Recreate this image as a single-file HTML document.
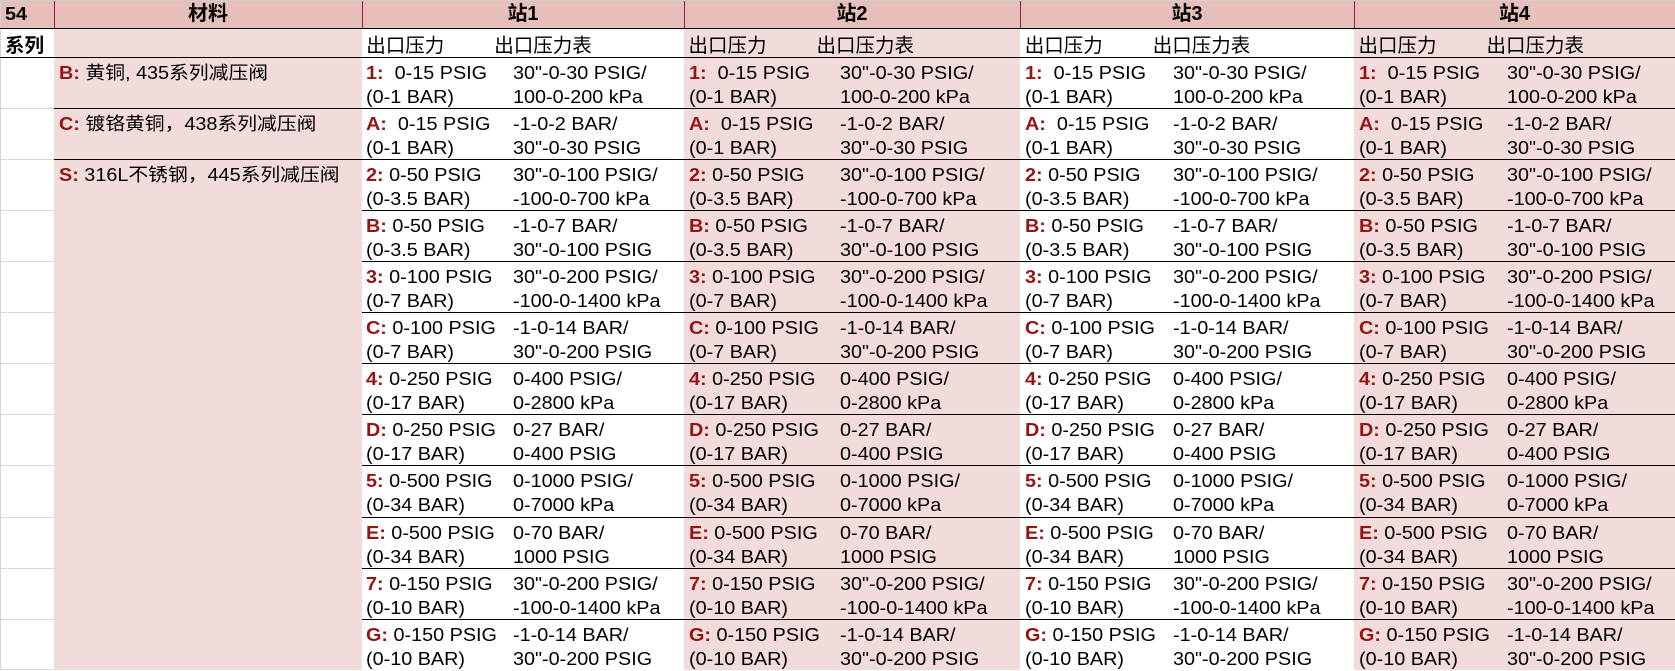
<!DOCTYPE html>
<html><head><meta charset="utf-8">
<style>
body{margin:0;width:1675px;height:670px;overflow:hidden;background:#fff;position:relative;font-family:"Liberation Sans","Noto Sans CJK SC",sans-serif;font-size:18px;color:#000}
.a{position:absolute}
.pk{background:#f2dcdb}
.bl{background:#000;height:1px}
.gr{background:#d9d9d9;height:1px;left:1px;width:53px}
.cv{background:#9e1a3c;width:1px;top:1px;height:27px}
.t{position:absolute;top:0;left:0;white-space:pre;line-height:24px;transform:scaleX(1.1);transform-origin:0 0}
.t b{color:#951515;font-weight:700}
.z{font-size:19.5px;transform:none}
.r{position:absolute;left:0;width:1675px;height:51px}
.c{position:absolute;top:3.6px}
.s1{left:366.3px}.s2{left:688.5px}.s3{left:1024.8px}.s4{left:1358.5px}
.s1 .g{left:147.2px}.s2 .g{left:151.5px}.s3 .g{left:147.8px}.s4 .g{left:148.2px}
.h{left:128px}
.hd{position:absolute;top:0;height:28px;line-height:28px;text-align:center;font-weight:700;font-size:20px}
.hd span{display:inline-block}
.bo{font-weight:700}
</style></head><body>
<!-- backgrounds -->
<div class="a" style="left:0;top:0;width:1675px;height:28px;background:#e6bfba"></div>
<div class="a pk" style="left:54px;top:28px;width:308px;height:642px"></div>
<div class="a pk" style="left:684px;top:28px;width:336px;height:642px"></div>
<div class="a pk" style="left:1354px;top:28px;width:321px;height:642px"></div>
<div class="a" style="left:0;top:0;width:1675px;height:1px;background:#d0d0d0"></div>
<div class="a" style="left:0;top:0;width:1px;height:670px;background:#d4d4d4"></div>
<div class="a cv" style="left:54px"></div>
<div class="a cv" style="left:362px"></div>
<div class="a cv" style="left:684px"></div>
<div class="a cv" style="left:1020px"></div>
<div class="a cv" style="left:1354px"></div>
<!-- black lines -->
<div class="a bl" style="left:0;top:28px;width:1675px"></div>
<div class="a bl" style="left:0;top:57px;width:1675px"></div>
<div class="a bl" style="left:54px;top:108px;width:1621px"></div>
<div class="a bl" style="left:54px;top:159px;width:1621px"></div>
<div class="a bl" style="left:362px;top:210px;width:1313px"></div>
<div class="a bl" style="left:362px;top:261px;width:1313px"></div>
<div class="a bl" style="left:362px;top:312px;width:1313px"></div>
<div class="a bl" style="left:362px;top:363px;width:1313px"></div>
<div class="a bl" style="left:362px;top:414px;width:1313px"></div>
<div class="a bl" style="left:362px;top:465px;width:1313px"></div>
<div class="a bl" style="left:362px;top:517px;width:1313px"></div>
<div class="a bl" style="left:362px;top:568px;width:1313px"></div>
<div class="a bl" style="left:362px;top:619px;width:1313px"></div>
<!-- gray col A lines -->
<div class="a gr" style="top:108px"></div><div class="a gr" style="top:159px"></div><div class="a gr" style="top:210px"></div><div class="a gr" style="top:261px"></div><div class="a gr" style="top:312px"></div><div class="a gr" style="top:363px"></div><div class="a gr" style="top:414px"></div><div class="a gr" style="top:465px"></div><div class="a gr" style="top:517px"></div><div class="a gr" style="top:568px"></div><div class="a gr" style="top:619px"></div><div class="a gr" style="top:669px"></div>

<!-- header -->
<div class="t bo" style="left:4.7px;top:0;line-height:28px">54</div>
<div class="hd" style="left:54px;width:308px"><span>材料</span></div>
<div class="hd" style="left:362px;width:322px"><span>站1</span></div>
<div class="hd" style="left:684px;width:336px"><span>站2</span></div>
<div class="hd" style="left:1020px;width:334px"><span>站3</span></div>
<div class="hd" style="left:1354px;width:321px"><span>站4</span></div>

<!-- row 2 -->
<div class="r" style="top:33.5px">
<div class="t bo z" style="left:5px">系列</div>
<div class="c s1" style="top:0"><span class="t z">出口压力</span><span class="t z h">出口压力表</span></div>
<div class="c s2" style="top:0"><span class="t z">出口压力</span><span class="t z h">出口压力表</span></div>
<div class="c s3" style="top:0"><span class="t z">出口压力</span><span class="t z h">出口压力表</span></div>
<div class="c s4" style="top:0"><span class="t z">出口压力</span><span class="t z h">出口压力表</span></div>
</div>

<!-- material column -->
<div class="t" style="left:58.7px;top:60.6px"><b>B:</b> 黄铜, 435系列减压阀</div>
<div class="t" style="left:58.7px;top:111.6px"><b>C:</b> 镀铬黄铜，438系列减压阀</div>
<div class="t" style="left:58.7px;top:162.6px"><b>S:</b> 316L不锈钢，445系列减压阀</div>

<!-- data rows -->
<div class="r" style="top:57px">
<div class="c s1"><span class="t"><b>1:</b>  0-15 PSIG<br>(0-1 BAR)</span><span class="t g">30"-0-30 PSIG/<br>100-0-200 kPa</span></div>
<div class="c s2"><span class="t"><b>1:</b>  0-15 PSIG<br>(0-1 BAR)</span><span class="t g">30"-0-30 PSIG/<br>100-0-200 kPa</span></div>
<div class="c s3"><span class="t"><b>1:</b>  0-15 PSIG<br>(0-1 BAR)</span><span class="t g">30"-0-30 PSIG/<br>100-0-200 kPa</span></div>
<div class="c s4"><span class="t"><b>1:</b>  0-15 PSIG<br>(0-1 BAR)</span><span class="t g">30"-0-30 PSIG/<br>100-0-200 kPa</span></div>
</div>
<div class="r" style="top:108px">
<div class="c s1"><span class="t"><b>A:</b>  0-15 PSIG<br>(0-1 BAR)</span><span class="t g">-1-0-2 BAR/<br>30"-0-30 PSIG</span></div>
<div class="c s2"><span class="t"><b>A:</b>  0-15 PSIG<br>(0-1 BAR)</span><span class="t g">-1-0-2 BAR/<br>30"-0-30 PSIG</span></div>
<div class="c s3"><span class="t"><b>A:</b>  0-15 PSIG<br>(0-1 BAR)</span><span class="t g">-1-0-2 BAR/<br>30"-0-30 PSIG</span></div>
<div class="c s4"><span class="t"><b>A:</b>  0-15 PSIG<br>(0-1 BAR)</span><span class="t g">-1-0-2 BAR/<br>30"-0-30 PSIG</span></div>
</div>
<div class="r" style="top:159px">
<div class="c s1"><span class="t"><b>2:</b> 0-50 PSIG<br>(0-3.5 BAR)</span><span class="t g">30"-0-100 PSIG/<br>-100-0-700 kPa</span></div>
<div class="c s2"><span class="t"><b>2:</b> 0-50 PSIG<br>(0-3.5 BAR)</span><span class="t g">30"-0-100 PSIG/<br>-100-0-700 kPa</span></div>
<div class="c s3"><span class="t"><b>2:</b> 0-50 PSIG<br>(0-3.5 BAR)</span><span class="t g">30"-0-100 PSIG/<br>-100-0-700 kPa</span></div>
<div class="c s4"><span class="t"><b>2:</b> 0-50 PSIG<br>(0-3.5 BAR)</span><span class="t g">30"-0-100 PSIG/<br>-100-0-700 kPa</span></div>
</div>
<div class="r" style="top:210px">
<div class="c s1"><span class="t"><b>B:</b> 0-50 PSIG<br>(0-3.5 BAR)</span><span class="t g">-1-0-7 BAR/<br>30"-0-100 PSIG</span></div>
<div class="c s2"><span class="t"><b>B:</b> 0-50 PSIG<br>(0-3.5 BAR)</span><span class="t g">-1-0-7 BAR/<br>30"-0-100 PSIG</span></div>
<div class="c s3"><span class="t"><b>B:</b> 0-50 PSIG<br>(0-3.5 BAR)</span><span class="t g">-1-0-7 BAR/<br>30"-0-100 PSIG</span></div>
<div class="c s4"><span class="t"><b>B:</b> 0-50 PSIG<br>(0-3.5 BAR)</span><span class="t g">-1-0-7 BAR/<br>30"-0-100 PSIG</span></div>
</div>
<div class="r" style="top:261px">
<div class="c s1"><span class="t"><b>3:</b> 0-100 PSIG<br>(0-7 BAR)</span><span class="t g">30"-0-200 PSIG/<br>-100-0-1400 kPa</span></div>
<div class="c s2"><span class="t"><b>3:</b> 0-100 PSIG<br>(0-7 BAR)</span><span class="t g">30"-0-200 PSIG/<br>-100-0-1400 kPa</span></div>
<div class="c s3"><span class="t"><b>3:</b> 0-100 PSIG<br>(0-7 BAR)</span><span class="t g">30"-0-200 PSIG/<br>-100-0-1400 kPa</span></div>
<div class="c s4"><span class="t"><b>3:</b> 0-100 PSIG<br>(0-7 BAR)</span><span class="t g">30"-0-200 PSIG/<br>-100-0-1400 kPa</span></div>
</div>
<div class="r" style="top:312px">
<div class="c s1"><span class="t"><b>C:</b> 0-100 PSIG<br>(0-7 BAR)</span><span class="t g">-1-0-14 BAR/<br>30"-0-200 PSIG</span></div>
<div class="c s2"><span class="t"><b>C:</b> 0-100 PSIG<br>(0-7 BAR)</span><span class="t g">-1-0-14 BAR/<br>30"-0-200 PSIG</span></div>
<div class="c s3"><span class="t"><b>C:</b> 0-100 PSIG<br>(0-7 BAR)</span><span class="t g">-1-0-14 BAR/<br>30"-0-200 PSIG</span></div>
<div class="c s4"><span class="t"><b>C:</b> 0-100 PSIG<br>(0-7 BAR)</span><span class="t g">-1-0-14 BAR/<br>30"-0-200 PSIG</span></div>
</div>
<div class="r" style="top:363px">
<div class="c s1"><span class="t"><b>4:</b> 0-250 PSIG<br>(0-17 BAR)</span><span class="t g">0-400 PSIG/<br>0-2800 kPa</span></div>
<div class="c s2"><span class="t"><b>4:</b> 0-250 PSIG<br>(0-17 BAR)</span><span class="t g">0-400 PSIG/<br>0-2800 kPa</span></div>
<div class="c s3"><span class="t"><b>4:</b> 0-250 PSIG<br>(0-17 BAR)</span><span class="t g">0-400 PSIG/<br>0-2800 kPa</span></div>
<div class="c s4"><span class="t"><b>4:</b> 0-250 PSIG<br>(0-17 BAR)</span><span class="t g">0-400 PSIG/<br>0-2800 kPa</span></div>
</div>
<div class="r" style="top:414px">
<div class="c s1"><span class="t"><b>D:</b> 0-250 PSIG<br>(0-17 BAR)</span><span class="t g">0-27 BAR/<br>0-400 PSIG</span></div>
<div class="c s2"><span class="t"><b>D:</b> 0-250 PSIG<br>(0-17 BAR)</span><span class="t g">0-27 BAR/<br>0-400 PSIG</span></div>
<div class="c s3"><span class="t"><b>D:</b> 0-250 PSIG<br>(0-17 BAR)</span><span class="t g">0-27 BAR/<br>0-400 PSIG</span></div>
<div class="c s4"><span class="t"><b>D:</b> 0-250 PSIG<br>(0-17 BAR)</span><span class="t g">0-27 BAR/<br>0-400 PSIG</span></div>
</div>
<div class="r" style="top:465px">
<div class="c s1"><span class="t"><b>5:</b> 0-500 PSIG<br>(0-34 BAR)</span><span class="t g">0-1000 PSIG/<br>0-7000 kPa</span></div>
<div class="c s2"><span class="t"><b>5:</b> 0-500 PSIG<br>(0-34 BAR)</span><span class="t g">0-1000 PSIG/<br>0-7000 kPa</span></div>
<div class="c s3"><span class="t"><b>5:</b> 0-500 PSIG<br>(0-34 BAR)</span><span class="t g">0-1000 PSIG/<br>0-7000 kPa</span></div>
<div class="c s4"><span class="t"><b>5:</b> 0-500 PSIG<br>(0-34 BAR)</span><span class="t g">0-1000 PSIG/<br>0-7000 kPa</span></div>
</div>
<div class="r" style="top:517px">
<div class="c s1"><span class="t"><b>E:</b> 0-500 PSIG<br>(0-34 BAR)</span><span class="t g">0-70 BAR/<br>1000 PSIG</span></div>
<div class="c s2"><span class="t"><b>E:</b> 0-500 PSIG<br>(0-34 BAR)</span><span class="t g">0-70 BAR/<br>1000 PSIG</span></div>
<div class="c s3"><span class="t"><b>E:</b> 0-500 PSIG<br>(0-34 BAR)</span><span class="t g">0-70 BAR/<br>1000 PSIG</span></div>
<div class="c s4"><span class="t"><b>E:</b> 0-500 PSIG<br>(0-34 BAR)</span><span class="t g">0-70 BAR/<br>1000 PSIG</span></div>
</div>
<div class="r" style="top:568px">
<div class="c s1"><span class="t"><b>7:</b> 0-150 PSIG<br>(0-10 BAR)</span><span class="t g">30"-0-200 PSIG/<br>-100-0-1400 kPa</span></div>
<div class="c s2"><span class="t"><b>7:</b> 0-150 PSIG<br>(0-10 BAR)</span><span class="t g">30"-0-200 PSIG/<br>-100-0-1400 kPa</span></div>
<div class="c s3"><span class="t"><b>7:</b> 0-150 PSIG<br>(0-10 BAR)</span><span class="t g">30"-0-200 PSIG/<br>-100-0-1400 kPa</span></div>
<div class="c s4"><span class="t"><b>7:</b> 0-150 PSIG<br>(0-10 BAR)</span><span class="t g">30"-0-200 PSIG/<br>-100-0-1400 kPa</span></div>
</div>
<div class="r" style="top:619px">
<div class="c s1"><span class="t"><b>G:</b> 0-150 PSIG<br>(0-10 BAR)</span><span class="t g">-1-0-14 BAR/<br>30"-0-200 PSIG</span></div>
<div class="c s2"><span class="t"><b>G:</b> 0-150 PSIG<br>(0-10 BAR)</span><span class="t g">-1-0-14 BAR/<br>30"-0-200 PSIG</span></div>
<div class="c s3"><span class="t"><b>G:</b> 0-150 PSIG<br>(0-10 BAR)</span><span class="t g">-1-0-14 BAR/<br>30"-0-200 PSIG</span></div>
<div class="c s4"><span class="t"><b>G:</b> 0-150 PSIG<br>(0-10 BAR)</span><span class="t g">-1-0-14 BAR/<br>30"-0-200 PSIG</span></div>
</div>
</body></html>
